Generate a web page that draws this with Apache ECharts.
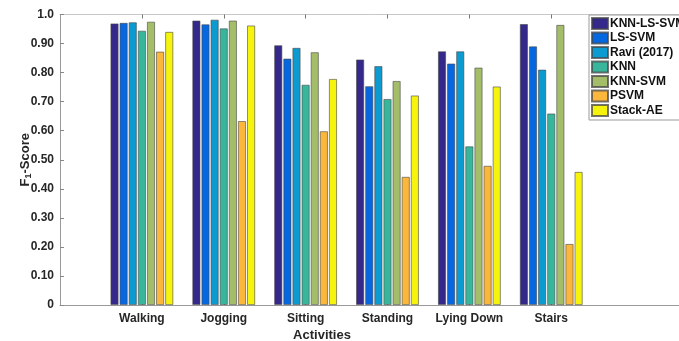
<!DOCTYPE html>
<html>
<head>
<meta charset="utf-8">
<title>F1-Score by activity</title>
<script src="https://cdn.jsdelivr.net/npm/echarts@6/dist/echarts.min.js"></script>
<style>
  html, body { margin: 0; padding: 0; background: #fff; }
  #chart { width: 679px; height: 341px; }
</style>
</head>
<body>
<div id="chart"></div>
<script>
// Activities along the x axis (placed at positions 1..6)
const categories = ['Walking', 'Jogging', 'Sitting', 'Standing', 'Lying Down', 'Stairs'];

// Methods, one bar per activity each
const seriesNames = ['KNN-LS-SVM', 'LS-SVM', 'Ravi (2017)', 'KNN', 'KNN-SVM', 'PSVM', 'Stack-AE'];

// F1-scores per method, in category order
const knnLsSvm = [0.969, 0.979, 0.894, 0.845, 0.873, 0.967];
const lsSvm    = [0.971, 0.966, 0.848, 0.753, 0.831, 0.890];
const ravi2017 = [0.973, 0.982, 0.885, 0.822, 0.873, 0.810];
const knn      = [0.944, 0.952, 0.758, 0.709, 0.546, 0.659];
const knnSvm   = [0.975, 0.979, 0.870, 0.771, 0.817, 0.964];
const psvm     = [0.872, 0.633, 0.598, 0.441, 0.479, 0.210];
const stackAe  = [0.940, 0.962, 0.778, 0.721, 0.752, 0.458];

const seriesValues = [knnLsSvm, lsSvm, ravi2017, knn, knnSvm, psvm, stackAe];

// y tick labels from 0 to 1 in steps of 0.1
const yTickLabels = ['0', '0.10', '0.20', '0.30', '0.40', '0.50', '0.60', '0.70', '0.80', '0.90', '1.0'];

const colors = ['#34288a', '#0668e0', '#0b9bd1', '#38b69c', '#a4bd69', '#fbb73c', '#f6f40c'];

const axisGray = '#9a9a9a';
const fontFamily = 'Liberation Sans, Arial, sans-serif';
const labelFont = { fontFamily, fontWeight: 'bold', fontSize: 12, color: '#262626' };
const catPositions = categories.map((_, i) => i + 1);

const chart = echarts.init(document.getElementById('chart'), null, { renderer: 'canvas' });

chart.setOption({
  animation: false,
  backgroundColor: '#ffffff',
  color: colors,
  grid: { left: 60, top: 14.5, bottom: 36, right: -36, containLabel: false, outerBoundsMode: 'none' },
  xAxis: [
    {
      type: 'value',
      position: 'bottom',
      min: 0,
      max: 8,
      interval: 1,
      splitLine: { show: false },
      axisLine: { show: true, lineStyle: { color: axisGray, width: 1 } },
      axisTick: { show: true, inside: true, length: 4, customValues: catPositions, lineStyle: { color: '#777' } },
      axisLabel: {
        ...labelFont,
        margin: 8,
        customValues: catPositions,
        formatter: v => categories[Math.round(v) - 1] || ''
      }
    },
    {
      type: 'value',
      position: 'top',
      min: 0,
      max: 8,
      interval: 1,
      splitLine: { show: false },
      axisLine: { show: true, lineStyle: { color: '#c8c8c8', width: 1 } },
      axisTick: { show: true, inside: true, length: 4, customValues: catPositions, lineStyle: { color: '#777' } },
      axisLabel: { show: false }
    }
  ],
  yAxis: {
    type: 'value',
    min: 0,
    max: 1,
    interval: 0.1,
    splitLine: { show: false },
    axisLine: { show: true, lineStyle: { color: axisGray, width: 1 } },
    axisTick: { show: true, inside: true, length: 4, lineStyle: { color: '#888' } },
    axisLabel: {
      ...labelFont,
      margin: 6,
      formatter: v => yTickLabels[Math.round(v * 10)]
    },
    name: '{a|F}{s|1}{a|-Score}',
    nameLocation: 'middle',
    nameRotate: 90,
    nameGap: 26.5,
    nameMoveOverlap: false,
    nameTextStyle: {
      rich: {
        a: { fontFamily, fontWeight: 'bold', fontSize: 13, color: '#262626', lineHeight: 16, verticalAlign: 'middle' },
        s: { fontFamily, fontWeight: 'bold', fontSize: 9, color: '#262626', lineHeight: 16, verticalAlign: 'bottom', padding: [8, 0, 0, 0] }
      }
    }
  },
  legend: {
    show: true,
    orient: 'vertical',
    left: 589,
    top: 15,
    padding: [2, 30, 3, 2],
    itemWidth: 16,
    itemHeight: 11,
    itemGap: 1.5,
    backgroundColor: '#ffffff',
    borderColor: '#9a9a9a',
    borderWidth: 1,
    borderRadius: 0,
    icon: 'rect',
    textStyle: { ...labelFont, color: '#111', lineHeight: 11, padding: [0, 0, 0, -3] },
    data: seriesNames
  },
  graphic: [
    {
      type: 'text',
      style: {
        x: 322, y: 335,
        text: 'Activities',
        align: 'center', verticalAlign: 'middle',
        font: 'bold 13px "Liberation Sans", Arial, sans-serif',
        fill: '#262626'
      }
    }
  ],
  series: seriesNames.map((name, si) => ({
    name,
    type: 'bar',
    xAxisIndex: 0,
    barWidth: 8,
    barGap: '14%',
    itemStyle: { color: colors[si], borderColor: 'rgba(70,70,70,0.75)', borderWidth: 0.8 },
    data: seriesValues[si].map((v, ci) => [catPositions[ci], v])
  }))
});
</script>
</body>
</html>
